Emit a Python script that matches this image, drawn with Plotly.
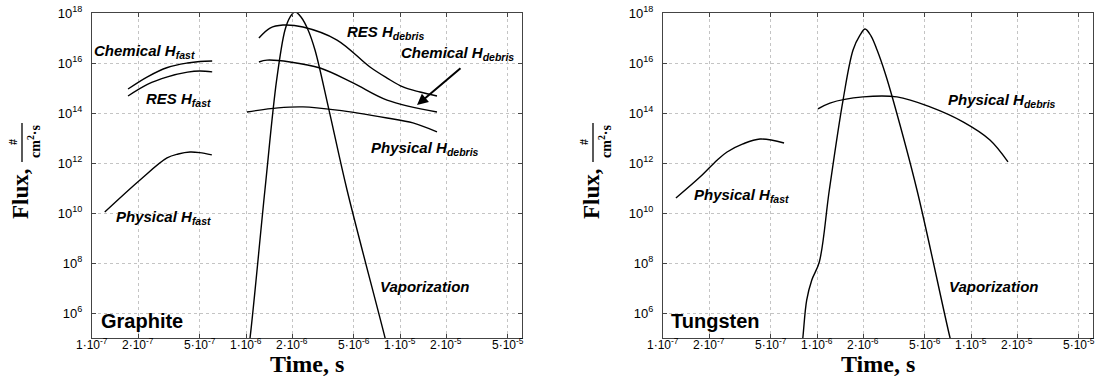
import math
import plotly.graph_objects as go

W, H = 1105, 390

# ---------------- data (time in s, flux in #/(cm^2 s)) ----------------
# Graphite
g_chem_fast_t = [1.714e-7, 2.29e-7, 3.09e-7, 4.17e-7, 5.01e-7, 6.03e-7]
g_chem_fast_f = [9.1e14, 2.8e15, 6.6e15, 1.0e16, 1.15e16, 1.2e16]

g_res_fast_t = [1.714e-7, 2.29e-7, 3.09e-7, 4.17e-7, 5.01e-7, 6.03e-7]
g_res_fast_f = [4.8e14, 1.4e15, 2.8e15, 4.3e15, 4.8e15, 4.4e15]

g_phys_fast_t = [1.21e-7, 2.05e-7, 3.07e-7, 3.63e-7, 4.33e-7, 5.0e-7, 6.0e-7]
g_phys_fast_f = [1.1e10, 2.1e11, 1.6e12, 2.3e12, 2.75e12, 2.6e12, 2.1e12]

g_res_debris_t = [1.213e-6, 1.432e-6, 1.738e-6, 2.344e-6, 3.899e-6, 6.383e-6, 8.24e-6, 1.045e-5, 1.349e-5, 1.738e-5]
g_res_debris_f = [1.0e17, 2.5e17, 3.3e17, 2.75e17, 8.3e16, 6.9e15, 2.5e15, 1.1e15, 6.9e14, 4.8e14]

g_chem_debris_t = [1.213e-6, 1.368e-6, 1.932e-6, 3.027e-6, 4.955e-6, 8.24e-6, 1.738e-5]
g_chem_debris_f = [1.1e16, 1.3e16, 1.1e16, 6.3e15, 1.6e15, 3.3e14, 1.1e14]

g_phys_debris_t = [1.014e-6, 1.614e-6, 2.344e-6, 3.899e-6, 8.24e-6, 1.213e-5, 1.738e-5]
g_phys_debris_f = [1.1e14, 1.6e14, 1.75e14, 1.3e14, 6.3e13, 4.0e13, 1.75e13]

g_vap_t = [1.023e-6, 1.062e-6, 1.327e-6, 1.581e-6, 1.791e-6, 1.932e-6, 2.080e-6, 2.275e-6,
           2.529e-6, 2.805e-6, 3.459e-6, 4.529e-6, 7.998e-6, 8.75e-6]
g_vap_f = [2.2e4, 1.0e5, 8.3e10, 2.1e15, 2.1e17, 6.9e17, 1.12e18, 6.9e17,
           2.1e17, 3.3e16, 1.3e14, 8.3e10, 1.0e5, 1.0e4]

# Tungsten
w_phys_fast_t = [1.213e-7, 1.738e-7, 2.244e-7, 2.606e-7, 3.304e-7, 4.266e-7, 6.109e-7]
w_phys_fast_f = [4.0e10, 2.75e11, 1.3e12, 2.75e12, 5.8e12, 9.1e12, 6.3e12]

w_phys_debris_t = [1.014e-6, 1.213e-6, 1.991e-6, 3.304e-6, 5.420e-6, 8.872e-6, 1.327e-5, 1.738e-5]
w_phys_debris_f = [1.45e14, 2.5e14, 4.4e14, 4.4e14, 1.75e14, 4.4e13, 8.3e12, 1.1e12]

w_vap_t = [7.74e-7, 8.09e-7, 8.57e-7, 9.25e-7, 1.035e-6, 1.202e-6, 1.476e-6, 1.714e-6, 1.901e-6,
           2.051e-6, 2.244e-6, 2.455e-6, 2.767e-6, 3.119e-6, 4.457e-6, 7.311e-6, 8.11e-6]
w_vap_f = [8.3e3, 1.0e5, 3.3e6, 2.1e7, 1.1e8, 8.3e10, 3.3e14, 3.3e16, 1.3e17,
           2.3e17, 1.2e17, 3.3e16, 4.0e15, 3.3e14, 8.3e10, 1.0e5, 8.3e3]

# ticks
x_tickvals = [1e-7, 2e-7, 5e-7, 1e-6, 2e-6, 5e-6, 1e-5, 2e-5, 5e-5]
x_ticktext = ["1·10<sup>-7</sup>", "2·10<sup>-7</sup>", "5·10<sup>-7</sup>",
              "1·10<sup>-6</sup>", "2·10<sup>-6</sup>", "5·10<sup>-6</sup>",
              "1·10<sup>-5</sup>", "2·10<sup>-5</sup>", "5·10<sup>-5</sup>"]
y_tickvals = [1e6, 1e8, 1e10, 1e12, 1e14, 1e16, 1e18]
y_ticktext = ["10<sup>6</sup>", "10<sup>8</sup>", "10<sup>10</sup>", "10<sup>12</sup>",
              "10<sup>14</sup>", "10<sup>16</sup>", "10<sup>18</sup>"]


# ---------------- figure ----------------
def px(x):
    return x / W


def py(y):
    return 1 - y / H


fig = go.Figure()
line = dict(color="black", width=1.4)

left_series = [(g_chem_fast_t, g_chem_fast_f), (g_res_fast_t, g_res_fast_f),
               (g_phys_fast_t, g_phys_fast_f), (g_res_debris_t, g_res_debris_f),
               (g_chem_debris_t, g_chem_debris_f), (g_phys_debris_t, g_phys_debris_f),
               (g_vap_t, g_vap_f)]
right_series = [(w_phys_fast_t, w_phys_fast_f), (w_phys_debris_t, w_phys_debris_f),
                (w_vap_t, w_vap_f)]
for t, f in left_series:
    fig.add_trace(go.Scatter(x=t, y=f, mode="lines", line=line, line_shape="spline",
                             xaxis="x", yaxis="y", showlegend=False, hoverinfo="skip"))
for t, f in right_series:
    fig.add_trace(go.Scatter(x=t, y=f, mode="lines", line=line, line_shape="spline",
                             xaxis="x2", yaxis="y2", showlegend=False, hoverinfo="skip"))

common_x = dict(type="log", range=[-7, -4.208], tickvals=x_tickvals, showticklabels=False,
                showgrid=True, gridcolor="#c4c4c4", griddash="dot", gridwidth=1,
                showline=True, linecolor="#444", linewidth=1, mirror="ticks",
                ticks="inside", ticklen=4, tickcolor="#444",
                zeroline=False, automargin=False)
common_y = dict(type="log", range=[5, 18], tickvals=y_tickvals, ticktext=y_ticktext,
                showgrid=True, gridcolor="#c4c4c4", griddash="dot", gridwidth=1,
                showline=True, linecolor="#444", linewidth=1, mirror="ticks",
                ticks="inside", ticklen=4, tickcolor="#444",
                tickfont=dict(family="Liberation Sans, Arial", size=13, color="black"),
                zeroline=False, automargin=False, ticklabelstandoff=6,
                domain=[py(338), py(13)])

fig.update_layout(
    width=W, height=H,
    margin=dict(l=0, r=0, t=0, b=0),
    paper_bgcolor="white", plot_bgcolor="white",
    xaxis=dict(common_x, domain=[px(92), px(522)], anchor="y"),
    yaxis=dict(common_y, anchor="x"),
    xaxis2=dict(common_x, domain=[px(663), px(1093)], anchor="y2"),
    yaxis2=dict(common_y, anchor="x2"),
)

# x tick labels placed through each axis' own log scale
for xr in ("x", "x2"):
    for v, txt in zip(x_tickvals, x_ticktext):
        fig.add_annotation(text=txt, x=math.log10(v), xref=xr, y=py(344), yref="paper",
                           xanchor="center", yanchor="middle", showarrow=False,
                           font=dict(family="Liberation Sans, Arial", size=12, color="black"))

lab_font = dict(family="Liberation Sans, Arial", size=15, color="black")


def label(text, x, y, size=15, italic=True):
    t = f"<b><i>{text}</i></b>" if italic else f"<b>{text}</b>"
    fig.add_annotation(text=t, x=px(x), y=py(y), xref="paper", yref="paper",
                       xanchor="left", yanchor="middle", showarrow=False,
                       font=dict(lab_font, size=size))


# Graphite labels
label("Chemical H<sub>fast</sub>", 92, 52)
label("RES H<sub>fast</sub>", 144, 100)
label("Physical H<sub>fast</sub>", 114, 217)
label("RES H<sub>debris</sub>", 345, 32)
label("Chemical H<sub>debris</sub>", 399, 54)
label("Physical H<sub>debris</sub>", 369, 148)
label("Vaporization", 378, 286)
label("Graphite", 99, 321, size=20, italic=False)
# Tungsten labels
label("Physical H<sub>fast</sub>", 692, 195)
label("Physical H<sub>debris</sub>", 946, 101)
label("Vaporization", 947, 286)
label("Tungsten", 669, 321, size=20, italic=False)

# arrow to Chemical H_debris
fig.add_annotation(text="", x=px(417), y=py(105), xref="paper", yref="paper",
                   ax=45, ay=-38, axref="pixel", ayref="pixel",
                   showarrow=True, arrowhead=2, arrowsize=1.1, arrowwidth=2,
                   arrowcolor="black")

serif = "Liberation Serif, Times New Roman"
for off in (0, 571):
    # y-axis title: "Flux, #/(cm^2·s)"
    fig.add_annotation(text="<b>Flux,</b>", x=px(20 + off), y=py(194), xref="paper", yref="paper",
                       textangle=-90, showarrow=False, xanchor="center", yanchor="middle",
                       font=dict(family=serif, size=23, color="black"))
    fig.add_annotation(text="<b>#</b>", x=px(13 + off), y=py(142), xref="paper", yref="paper",
                       textangle=-90, showarrow=False, xanchor="center", yanchor="middle",
                       font=dict(family=serif, size=12, color="black"))
    fig.add_annotation(text="<b>cm<sup>2</sup>·s</b>", x=px(34 + off), y=py(142), xref="paper",
                       yref="paper", textangle=-90, showarrow=False, xanchor="center",
                       yanchor="middle", font=dict(family=serif, size=14, color="black"))
    fig.add_shape(type="line", xref="paper", yref="paper", x0=px(22 + off), x1=px(22 + off),
                  y0=py(123), y1=py(162), line=dict(color="black", width=1.3))
    # x-axis title
    fig.add_annotation(text="<b>Time, s</b>", x=px(307 + off), y=py(364), xref="paper",
                       yref="paper", showarrow=False, xanchor="center", yanchor="middle",
                       font=dict(family=serif, size=24, color="black"))

fig.write_html("out.html", config={"displayModeBar": False},
               post_script="document.body.style.margin='0';document.body.style.overflow='hidden';")
